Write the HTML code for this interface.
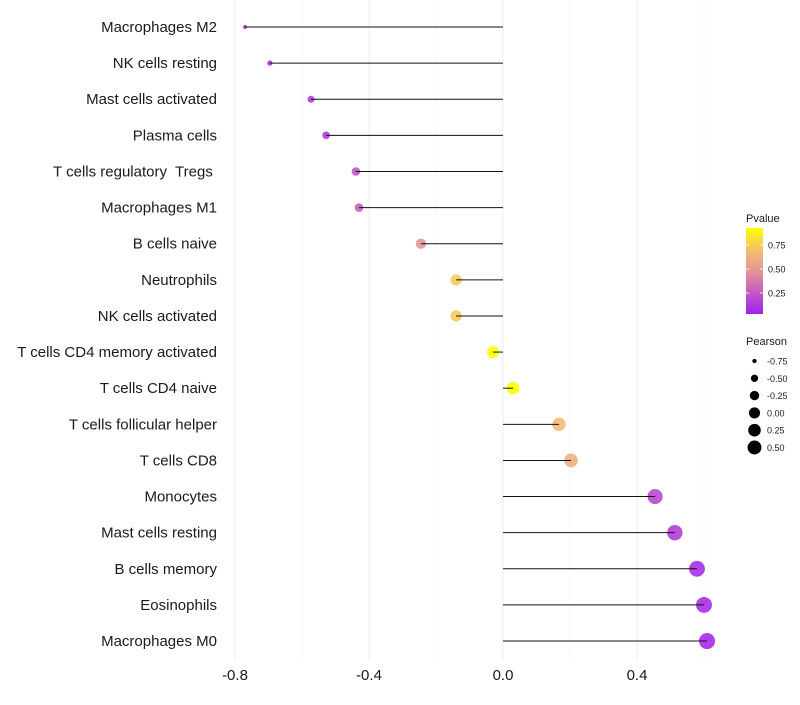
<!DOCTYPE html>
<html><head><meta charset="utf-8"><style>
body{margin:0;background:#fff;font-family:"Liberation Sans",sans-serif}
text{white-space:pre}
</style></head><body>
<svg id="c" width="800" height="700" xmlns="http://www.w3.org/2000/svg"></svg>
<script>
const categories=["Macrophages M2","NK cells resting","Mast cells activated","Plasma cells","T cells regulatory  Tregs ","Macrophages M1","B cells naive","Neutrophils","NK cells activated","T cells CD4 memory activated","T cells CD4 naive","T cells follicular helper","T cells CD8","Monocytes","Mast cells resting","B cells memory","Eosinophils","Macrophages M0"];
const pearson=[-0.770,-0.696,-0.573,-0.528,-0.439,-0.430,-0.245,-0.140,-0.140,-0.030,0.030,0.167,0.203,0.454,0.513,0.579,0.600,0.609];
const pvalue=[0.10,0.12,0.18,0.15,0.25,0.28,0.50,0.75,0.74,0.93,0.93,0.68,0.62,0.20,0.15,0.10,0.09,0.08];
const xTicks=[-0.8,-0.4,0.0,0.4];
const xMinor=[-0.6,-0.2,0.2,0.6];
const pTicks=[0.25,0.5,0.75];
const sizeTicks=[-0.75,-0.5,-0.25,0,0.25,0.5];

const NS="http://www.w3.org/2000/svg";
const svg=document.getElementById('c');
function el(t,a,p){const e=document.createElementNS(NS,t);for(const k in a)e.setAttribute(k,a[k]);(p||svg).appendChild(e);return e;}
const x=v=>503+v*335;
const y=i=>27+i*36.12;
const r=v=>Math.sqrt(Math.max(1,37.5+43.5*v));
const rl=v=>Math.sqrt(Math.max(1,30.8+34.8*v));
const stops=[[0,[160,32,240]],[0.5,[228,148,150]],[0.75,[243,192,112]],[1,[255,255,0]]];
function col(p){let t=(p-0.04)/(0.93-0.04);t=Math.max(0,Math.min(1,t));
 for(let i=1;i<stops.length;i++){if(t<=stops[i][0]){const a=stops[i-1],b=stops[i];const f=(t-a[0])/(b[0]-a[0]);
 return 'rgb('+a[1].map((c,j)=>Math.round(c+(b[1][j]-c)*f)).join(',')+')';}}return 'rgb(255,255,0)';}

const grid=el('g',{});


xMinor.forEach(v=>{const l=el('line',{x1:x(v),x2:x(v),y1:0,y2:660,stroke:'#f4f4f4','stroke-width':0.6},grid);
});
xTicks.forEach(v=>{const l=el('line',{x1:x(v),x2:x(v),y1:0,y2:660,stroke:'#eeeeee','stroke-width':1.1},grid);
});

categories.forEach((c,i)=>{
 const t=el('text',{x:217,y:y(i)+5,'text-anchor':'end','font-size':15,fill:'#1a1a1a'});t.textContent=c;
 
 
 const d=el('circle',{cx:x(pearson[i]),cy:y(i),r:r(pearson[i]),fill:col(pvalue[i]),'fill-opacity':0.9});
 
 
 const l=el('line',{x1:x(0),x2:x(pearson[i]),y1:y(i),y2:y(i),stroke:'#111','stroke-width':1});
 
 
});
xTicks.forEach(v=>{const t=el('text',{x:x(v),y:680,'text-anchor':'middle','font-size':15,fill:'#1a1a1a'});
 t.textContent=v===0?'0.0':v.toFixed(1);
 
 });

const lt=el('text',{x:746,y:222,'font-size':11,fill:'#1a1a1a'});lt.textContent='Pvalue';

const defs=el('defs',{});const g=el('linearGradient',{id:'pg',x1:0,y1:1,x2:0,y2:0},defs);
for(let k=0;k<=10;k++){el('stop',{offset:k/10,'stop-color':col(0.04+0.89*k/10)},g);}
const bar=el('rect',{x:746,y:228,width:17,height:86,fill:'url(#pg)'});

const py=p=>313-(p-0.04)/(0.93-0.04)*85;
pTicks.forEach(p=>{el('line',{x1:746,x2:749,y1:py(p),y2:py(p),stroke:'#fff','stroke-width':0.8});el('line',{x1:760,x2:763,y1:py(p),y2:py(p),stroke:'#fff','stroke-width':0.8});
 const t=el('text',{x:768,y:py(p)+3.5,'font-size':9,fill:'#1a1a1a'});t.textContent=p.toFixed(2);
 });
const st=el('text',{x:746,y:345,'font-size':11,fill:'#1a1a1a'});st.textContent='Pearson';

sizeTicks.forEach((v,k)=>{const cy=361+k*17.3;
 const c=el('circle',{cx:754.5,cy:cy,r:rl(v),fill:'#000'});
 
 const t=el('text',{x:767,y:cy+3.5,'font-size':9,fill:'#1a1a1a'});t.textContent=v.toFixed(2);
 });
</script>
</body></html>
